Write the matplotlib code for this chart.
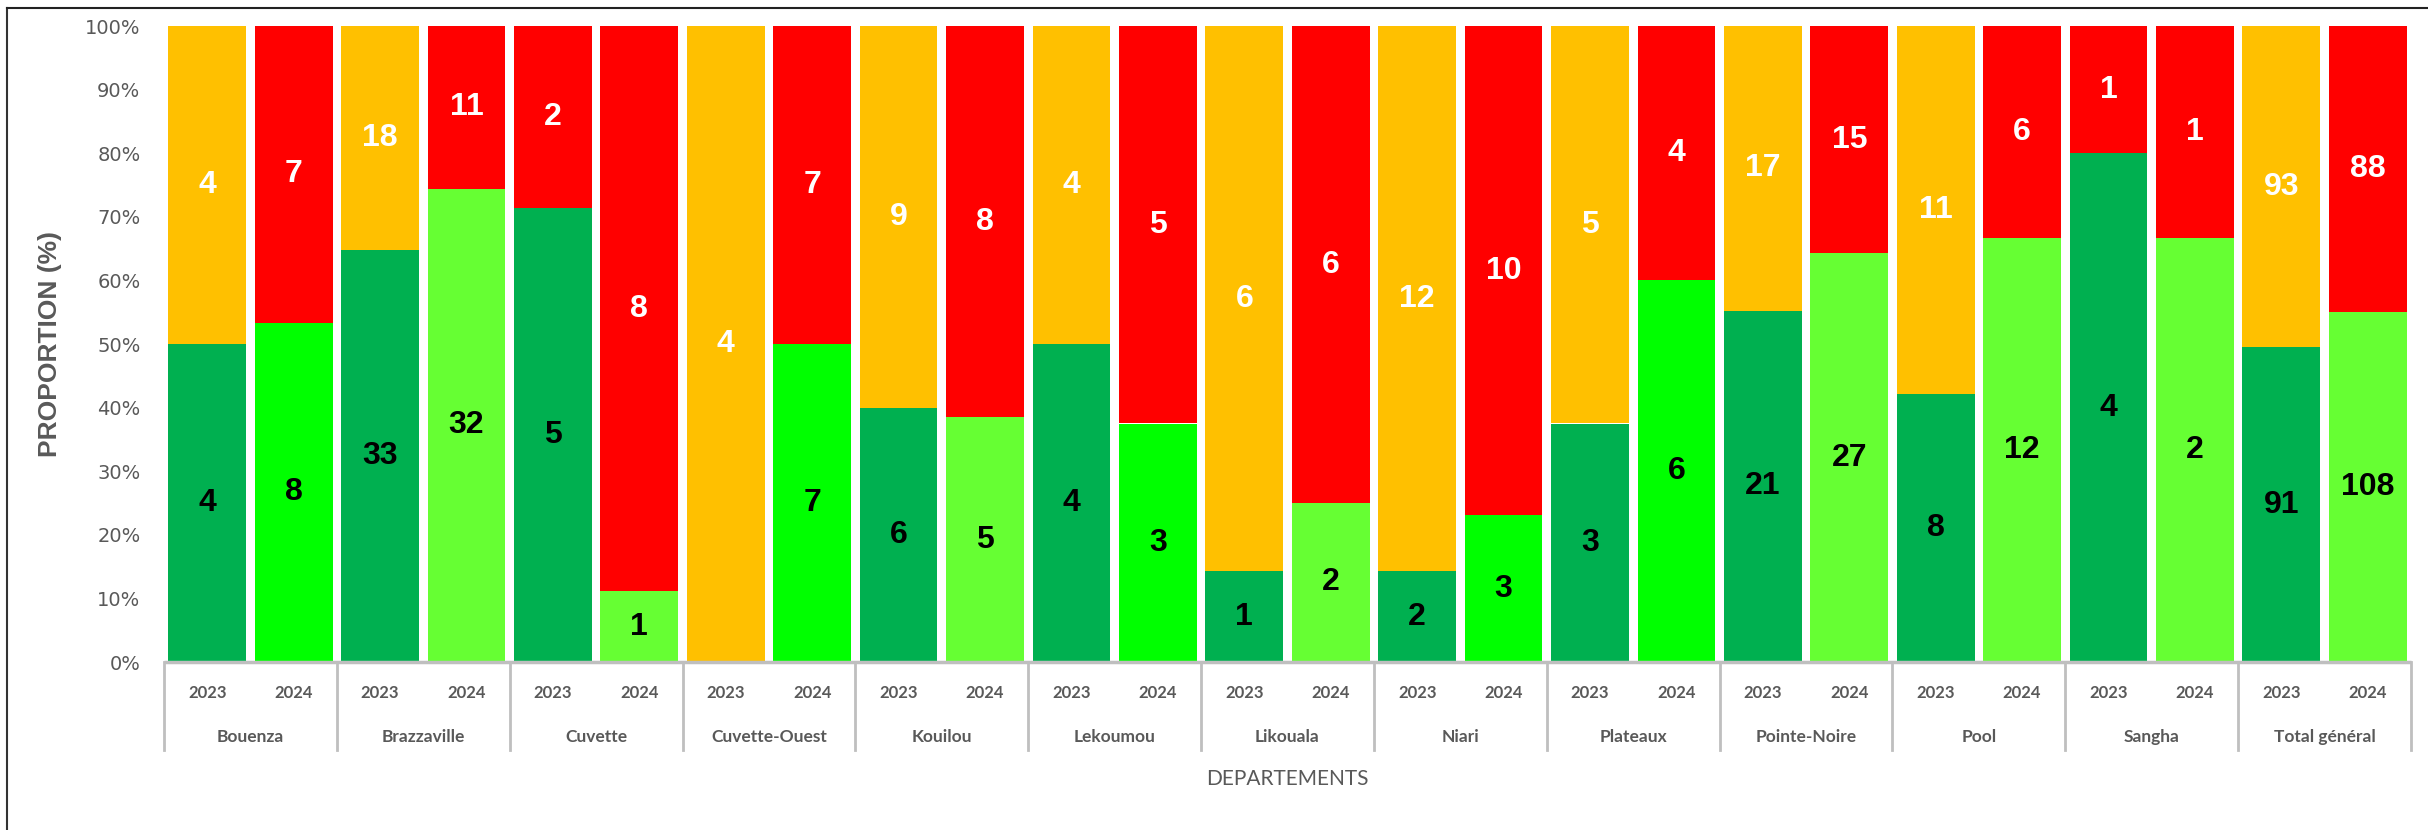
import matplotlib
matplotlib.use('Agg')
import matplotlib.pyplot as plt
from matplotlib.lines import Line2D
import matplotlib.transforms as mtransforms
import numpy as np

# data
departements = ['Bouenza', 'Brazzaville', 'Cuvette', 'Cuvette-Ouest', 'Kouilou',
                'Lekoumou', 'Likouala', 'Niari', 'Plateaux', 'Pointe-Noire',
                'Pool', 'Sangha', 'Total général']
annees = ['2023', '2024']
vert_2023 = [4, 33, 5, 0, 6, 4, 1, 2, 3, 21, 8, 4, 91]
haut_2023 = [4, 18, 2, 4, 9, 4, 6, 12, 5, 17, 11, 1, 93]
vert_2024 = [8, 32, 1, 7, 5, 3, 2, 3, 6, 27, 12, 2, 108]
haut_2024 = [7, 11, 8, 7, 8, 5, 6, 10, 4, 15, 6, 1, 88]

# colours
VERT_FONCE = '#00B050'
VERT_VIF = '#00FF00'
VERT_CLAIR = '#66FF33'
ORANGE = '#FFC000'
ROUGE = '#FF0000'
GRIS = '#595959'
GRIS_AXE = '#BFBFBF'

haut_2023_couleurs = [ROUGE if d in ('Cuvette', 'Sangha') else ORANGE for d in departements]
vert_2024_couleurs = [VERT_VIF if d in ('Bouenza', 'Cuvette-Ouest', 'Lekoumou', 'Niari', 'Plateaux')
                      else VERT_CLAIR for d in departements]

# interleave 2023 / 2024 bars
vert = []
haut = []
c_vert = []
c_haut = []
for i in range(len(departements)):
    vert += [vert_2023[i], vert_2024[i]]
    haut += [haut_2023[i], haut_2024[i]]
    c_vert += [VERT_FONCE, vert_2024_couleurs[i]]
    c_haut += [haut_2023_couleurs[i], ROUGE]
vert = np.array(vert, dtype=float)
haut = np.array(haut, dtype=float)
total = vert + haut
p_vert = vert / total * 100
p_haut = haut / total * 100
x = np.arange(len(vert))

W, H = 2428, 830
fig = plt.figure(figsize=(W / 100, H / 100), dpi=100)
ax = fig.add_axes([164 / W, 1 - 662 / H, 2247 / W, 636 / H])

ax.bar(x, p_vert, width=0.9, color=c_vert, edgecolor='none')
ax.bar(x, p_haut, width=0.9, bottom=p_vert, color=c_haut, edgecolor='none')

lbl = dict(ha='center', va='center', fontsize=23, fontweight='bold', family='Liberation Sans')
for i in range(len(x)):
    if vert[i] > 0:
        ax.text(x[i], p_vert[i] / 2, '%d' % vert[i], color='black', **lbl)
    if haut[i] > 0:
        ax.text(x[i], p_vert[i] + p_haut[i] / 2, '%d' % haut[i], color='white', **lbl)

ax.set_xlim(-0.5, len(x) - 0.5)
ax.set_ylim(0, 100)
ax.set_yticks(np.arange(0, 101, 10))
ax.set_yticklabels(['%d%%' % v for v in range(0, 101, 10)])
ax.tick_params(axis='y', length=0, pad=17, labelsize=14, labelcolor=GRIS)
ax.set_xticks([])
for s in ax.spines.values():
    s.set_visible(False)

ax.set_ylabel('PROPORTION (%)', fontsize=19, fontweight='bold', color=GRIS,
              family=['Liberation Sans Narrow', 'Liberation Sans'])
ax.yaxis.set_label_coords((62 - 164) / 2247, 0.5)

# category axis with two levels
trans = mtransforms.blended_transform_factory(ax.transData, ax.transAxes)
ax.plot([-0.5, len(x) - 0.5], [0, 0], transform=trans, color=GRIS_AXE, lw=2.5,
        clip_on=False, solid_capstyle='butt')
for k in range(len(departements) + 1):
    xs = 2 * k - 0.5
    ax.plot([xs, xs], [0, -0.138], transform=trans, color=GRIS_AXE, lw=2, clip_on=False)
for i in range(len(x)):
    ax.text(x[i], -0.049, annees[i % 2], transform=trans, ha='center', va='center',
            fontsize=12, fontweight='bold', color=GRIS, family='Lato')
for k, d in enumerate(departements):
    ax.text(2 * k + 0.5, -0.118, d, transform=trans, ha='center', va='center',
            fontsize=12.5, fontweight='bold', color=GRIS, family='Lato')
ax.text(0.5, -0.184, 'DEPARTEMENTS', transform=ax.transAxes, ha='center', va='center',
        fontsize=15, color=GRIS, family='Lato')

# partial frame of the original picture
fig.add_artist(Line2D([7 / W, 7 / W], [0, 1 - 8 / H], color='#333333', lw=1.5))
fig.add_artist(Line2D([7 / W, 1], [1 - 8 / H, 1 - 8 / H], color='#222222', lw=1.5))

fig.savefig('out.png', dpi=100)
